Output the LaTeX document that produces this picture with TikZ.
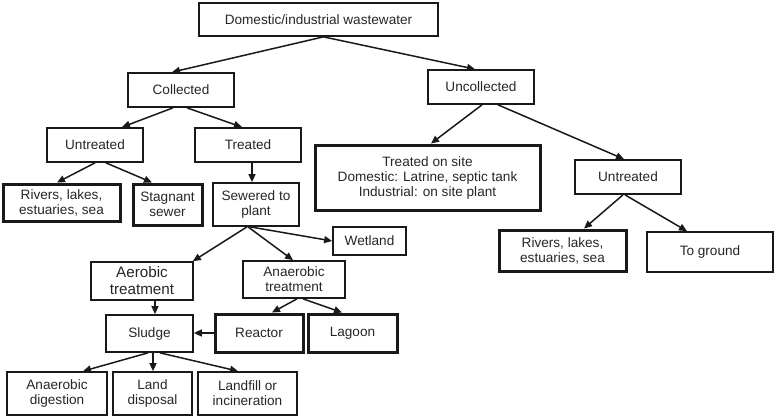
\documentclass[tikz,border=0pt]{standalone}
\usepackage{fontspec}
\setmainfont{Liberation Sans}
\usetikzlibrary{arrows.meta}
\begin{document}
\begin{tikzpicture}[x=1pt,y=-1pt,
  box/.style={draw=black!90, line width=1.7pt, inner sep=0pt, align=center,
    font=\fontsize{13.6}{15}\selectfont, text=black!85},
  thick box/.style={box, line width=3pt},
  big/.style={font=\fontsize{15.2}{17}\selectfont},
  arr/.style={draw=black!90, line width=1.5pt, -{Triangle[length=8pt,width=7pt]}}]
\path[use as bounding box] (0,0) rectangle (776,417);
% nodes
\node[box, minimum width=239pt, minimum height=33pt] (dom) at (318.5,19.5) {Domestic/industrial wastewater};
\node[box, minimum width=106pt, minimum height=34pt] (col) at (181,90) {Collected};
\node[box, minimum width=106pt, minimum height=34pt] (unc) at (481,87) {Uncollected};
\node[box, minimum width=96pt, minimum height=34pt] (untL) at (95,145) {Untreated};
\node[box, minimum width=106pt, minimum height=34pt] (trt) at (248,145) {Treated};
\node[thick box, minimum width=117pt, minimum height=37pt] (rivL) at (61.5,202.5) {Rivers, lakes,\\estuaries, sea};
\node[thick box, minimum width=69pt, minimum height=41pt] (stag) at (167.5,204.5) {Stagnant\\sewer};
\node[box, minimum width=86pt, minimum height=43pt] (sew) at (256,204.5) {Sewered to\\plant};
\node[thick box, minimum width=225pt, minimum height=65pt] (tos) at (427.5,177.5) {Treated on site\\Domestic: Latrine, septic tank\\Industrial: on site plant};
\node[box, minimum width=106pt, minimum height=34pt] (untR) at (628,177) {Untreated};
\node[thick box, minimum width=127pt, minimum height=41pt] (rivR) at (562.5,250.5) {Rivers, lakes,\\estuaries, sea};
\node[box, minimum width=126pt, minimum height=40pt] (grd) at (710,252) {To ground};
\node[box, minimum width=73pt, minimum height=28pt] (wet) at (369.5,241) {Wetland};
\node[box, big, minimum width=102pt, minimum height=38pt] (aer) at (142,281) {Aerobic\\treatment};
\node[box, minimum width=102pt, minimum height=37pt] (ana) at (294,279.5) {Anaerobic\\treatment};
\node[box, minimum width=87pt, minimum height=37pt] (slu) at (149.5,333.5) {Sludge};
\node[thick box, minimum width=88pt, minimum height=38pt] (rea) at (259,333) {Reactor};
\node[thick box, minimum width=89pt, minimum height=38pt] (lag) at (352.5,333) {Lagoon};
\node[box, minimum width=100pt, minimum height=43pt] (adg) at (57,393.5) {Anaerobic\\digestion};
\node[box, minimum width=79pt, minimum height=43pt] (lnd) at (152.5,393.5) {Land\\disposal};
\node[box, minimum width=99pt, minimum height=43pt] (lnf) at (247.5,393.5) {Landfill or\\incineration};
% connectors
\draw[arr] ([xshift=5pt]dom.south) -- ([xshift=-9pt]col.north);
\draw[arr] ([xshift=5pt]dom.south) -- ([xshift=-6pt]unc.north);
\draw[arr] ([xshift=-8pt]col.south) -- ([xshift=27pt]untL.north);
\draw[arr] ([xshift=6pt]col.south) -- ([xshift=-6pt]trt.north);
\draw[arr] (untL.south) -- ([xshift=-4.5pt]rivL.north);
\draw[arr] ([xshift=11pt]untL.south) -- ([xshift=-15.5pt]stag.north);
\draw[arr] ([xshift=4pt]trt.south) -- ([xshift=-4pt]sew.north);
\draw[arr] ([xshift=1pt]unc.south) -- ([xshift=3.5pt]tos.north);
\draw[arr] ([xshift=17pt]unc.south) -- ([xshift=-4pt]untR.north);
\draw[arr] ([xshift=-5pt]untR.south) -- ([xshift=21.5pt]rivR.north);
\draw[arr] ([xshift=-3pt]untR.south) -- ([xshift=-23pt]grd.north);
\draw[arr] ([xshift=-9pt]sew.south) -- ([xshift=-1pt]aer.north east);
\draw[arr] ([xshift=-8pt]sew.south) -- ([xshift=-1pt]ana.north);
\draw[arr] ([xshift=-6pt]sew.south) -- (wet.west);
\draw[arr] ([xshift=13pt]aer.south) -- ([xshift=5.5pt]slu.north);
\draw[arr] ([xshift=3pt]ana.south) -- ([xshift=13pt]rea.north);
\draw[arr] ([xshift=9pt]ana.south) -- ([xshift=-10.5pt]lag.north);
\draw[arr] (rea.west) -- (slu.east |- rea.west);
\draw[arr] ([xshift=-1.5pt]slu.south) -- ([xshift=26pt]adg.north);
\draw[arr] ([xshift=3.5pt]slu.south) -- ([xshift=0.5pt]lnd.north);
\draw[arr] ([xshift=10.5pt]slu.south) -- ([xshift=-9.5pt]lnf.north);
\end{tikzpicture}
\end{document}
